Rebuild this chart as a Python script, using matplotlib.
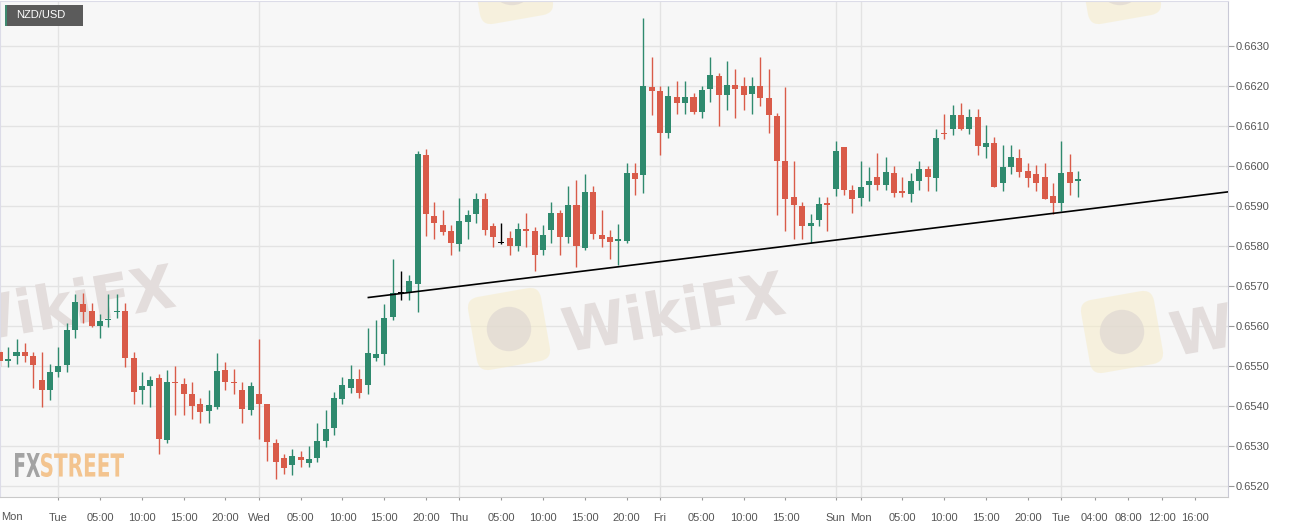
import matplotlib
matplotlib.use('Agg')
import matplotlib.pyplot as plt
from matplotlib.patches import Rectangle, FancyBboxPatch, PathPatch, Circle
from matplotlib.textpath import TextPath
from matplotlib.font_manager import FontProperties
from matplotlib.transforms import Affine2D, blended_transform_factory

W, H = 1299, 530

# hourly candles, x = trading hours from Tue 00:00 (weekend removed)
hours = list(range(-7, 123))
opens = [0.65535, 0.65512, 0.65525, 0.65535, 0.65524, 0.65465, 0.65440, 0.65485, 0.65502, 0.65590,
         0.65655, 0.65637, 0.65600, 0.65614, 0.65634, 0.65637, 0.65519, 0.65440, 0.65450, 0.65469,
         0.65316, 0.65459, 0.65456, 0.65431, 0.65404, 0.65387, 0.65398, 0.65489, 0.65461, 0.65440,
         0.65391, 0.65431, 0.65404, 0.65308, 0.65270, 0.65252, 0.65273, 0.65258, 0.65271, 0.65313,
         0.65345, 0.65417, 0.65446, 0.65468, 0.65452, 0.65521, 0.65531, 0.65622, 0.65681, 0.65683,
         0.65704, 0.66027, 0.65874, 0.65853, 0.65836, 0.65804, 0.65860, 0.65879, 0.65916, 0.65850,
         0.65807, 0.65819, 0.65800, 0.65841, 0.65838, 0.65789, 0.65839, 0.65881, 0.65821, 0.65901,
         0.65795, 0.65935, 0.65827, 0.65821, 0.65812, 0.65812, 0.65981, 0.65978, 0.66197, 0.66188,
         0.66081, 0.66173, 0.66156, 0.66173, 0.66135, 0.66191, 0.66225, 0.66177, 0.66203, 0.66200,
         0.66180, 0.66200, 0.66170, 0.66125, 0.66012, 0.65921, 0.65900, 0.65850, 0.65864, 0.65906,
         0.65942, 0.66046, 0.65939, 0.65919, 0.65952, 0.65971, 0.65952, 0.65983, 0.65936, 0.65929,
         0.65963, 0.65992, 0.65969, 0.66083, 0.66092, 0.66128, 0.66092, 0.66123, 0.66048, 0.66058,
         0.65957, 0.65998, 0.66019, 0.65986, 0.65979, 0.65972, 0.65925, 0.65908, 0.65984, 0.65961]
highs = [0.65541, 0.65548, 0.65568, 0.65558, 0.65535, 0.65535, 0.65505, 0.65548, 0.65608, 0.65679,
         0.65681, 0.65658, 0.65630, 0.65679, 0.65679, 0.65658, 0.65535, 0.65486, 0.65475, 0.65479,
         0.65491, 0.65501, 0.65471, 0.65461, 0.65421, 0.65440, 0.65533, 0.65511, 0.65492, 0.65460,
         0.65461, 0.65568, 0.65406, 0.65318, 0.65279, 0.65292, 0.65287, 0.65300, 0.65358, 0.65389,
         0.65436, 0.65472, 0.65502, 0.65492, 0.65594, 0.65614, 0.65654, 0.65767, 0.65737, 0.65727,
         0.66036, 0.66042, 0.65910, 0.65890, 0.65852, 0.65919, 0.65890, 0.65931, 0.65931, 0.65858,
         0.65858, 0.65838, 0.65857, 0.65881, 0.65848, 0.65852, 0.65910, 0.65890, 0.65950, 0.65964,
         0.65980, 0.65950, 0.65890, 0.65840, 0.65855, 0.66007, 0.66007, 0.66368, 0.66273, 0.66200,
         0.66200, 0.66213, 0.66213, 0.66181, 0.66200, 0.66273, 0.66233, 0.66262, 0.66242, 0.66223,
         0.66223, 0.66273, 0.66241, 0.66133, 0.66196, 0.66011, 0.65910, 0.65879, 0.65922, 0.65922,
         0.66062, 0.66046, 0.65952, 0.66011, 0.65996, 0.66031, 0.66021, 0.66000, 0.65971, 0.65981,
         0.66011, 0.66000, 0.66092, 0.66130, 0.66151, 0.66157, 0.66142, 0.66143, 0.66101, 0.66072,
         0.66051, 0.66051, 0.66042, 0.66008, 0.66001, 0.66008, 0.65958, 0.66061, 0.66029, 0.65988]
lows = [0.65500, 0.65497, 0.65506, 0.65511, 0.65445, 0.65397, 0.65416, 0.65473, 0.65486, 0.65569,
        0.65608, 0.65598, 0.65569, 0.65597, 0.65619, 0.65497, 0.65406, 0.65406, 0.65397, 0.65279,
        0.65308, 0.65378, 0.65378, 0.65368, 0.65358, 0.65358, 0.65392, 0.65441, 0.65431, 0.65358,
        0.65378, 0.65318, 0.65263, 0.65217, 0.65229, 0.65228, 0.65248, 0.65248, 0.65260, 0.65298,
        0.65327, 0.65404, 0.65432, 0.65421, 0.65429, 0.65512, 0.65502, 0.65614, 0.65664, 0.65664,
        0.65635, 0.65825, 0.65818, 0.65827, 0.65777, 0.65787, 0.65817, 0.65857, 0.65827, 0.65797,
        0.65805, 0.65777, 0.65787, 0.65797, 0.65737, 0.65777, 0.65808, 0.65777, 0.65808, 0.65746,
        0.65790, 0.65817, 0.65797, 0.65767, 0.65752, 0.65806, 0.65928, 0.65933, 0.66128, 0.66028,
        0.66070, 0.66130, 0.66130, 0.66130, 0.66120, 0.66160, 0.66100, 0.66139, 0.66120, 0.66139,
        0.66129, 0.66150, 0.66081, 0.65877, 0.65838, 0.65817, 0.65817, 0.65808, 0.65850, 0.65837,
        0.65925, 0.65928, 0.65883, 0.65900, 0.65911, 0.65940, 0.65940, 0.65921, 0.65921, 0.65910,
        0.65939, 0.65938, 0.65938, 0.66067, 0.66076, 0.66090, 0.66080, 0.66028, 0.66019, 0.65947,
        0.65938, 0.65979, 0.65973, 0.65948, 0.65938, 0.65917, 0.65880, 0.65888, 0.65928, 0.65921]
closes = [0.65512, 0.65517, 0.65535, 0.65525, 0.65503, 0.65440, 0.65484, 0.65499, 0.65589, 0.65659,
          0.65636, 0.65600, 0.65613, 0.65618, 0.65637, 0.65520, 0.65435, 0.65449, 0.65465, 0.65318,
          0.65460, 0.65457, 0.65430, 0.65400, 0.65386, 0.65402, 0.65487, 0.65461, 0.65457, 0.65392,
          0.65450, 0.65404, 0.65310, 0.65260, 0.65246, 0.65275, 0.65264, 0.65268, 0.65312, 0.65343,
          0.65420, 0.65452, 0.65468, 0.65432, 0.65533, 0.65529, 0.65621, 0.65681, 0.65681, 0.65711,
          0.66029, 0.65879, 0.65856, 0.65834, 0.65806, 0.65862, 0.65878, 0.65916, 0.65839, 0.65821,
          0.65807, 0.65800, 0.65842, 0.65838, 0.65777, 0.65827, 0.65881, 0.65821, 0.65902, 0.65800,
          0.65935, 0.65829, 0.65818, 0.65810, 0.65816, 0.65981, 0.65967, 0.66199, 0.66187, 0.66083,
          0.66175, 0.66156, 0.66173, 0.66135, 0.66189, 0.66227, 0.66177, 0.66203, 0.66192, 0.66178,
          0.66200, 0.66170, 0.66127, 0.66012, 0.65918, 0.65902, 0.65850, 0.65858, 0.65904, 0.65903,
          0.66037, 0.65939, 0.65918, 0.65948, 0.65962, 0.65952, 0.65985, 0.65931, 0.65933, 0.65963,
          0.65993, 0.65973, 0.66069, 0.66080, 0.66128, 0.66092, 0.66123, 0.66050, 0.66058, 0.65948,
          0.65998, 0.66021, 0.65984, 0.65969, 0.65958, 0.65918, 0.65907, 0.65982, 0.65958, 0.65967]

tick_hours = [0, 5, 10, 15, 20, 24, 29, 34, 39, 44, 48, 53, 58, 63, 68, 72, 77, 82, 87,
              93, 96, 101, 106, 111, 116, 120, 124, 128, 132, 136]
tick_labels = ['Tue', '05:00', '10:00', '15:00', '20:00', 'Wed', '05:00', '10:00', '15:00', '20:00',
               'Thu', '05:00', '10:00', '15:00', '20:00', 'Fri', '05:00', '10:00', '15:00',
               'Sun', 'Mon', '05:00', '10:00', '15:00', '20:00', 'Tue', '04:00', '08:00', '12:00', '16:00']
day_hours = [0, 24, 48, 72, 93, 96, 120]
price_ticks = [0.6520, 0.6530, 0.6540, 0.6550, 0.6560, 0.6570, 0.6580, 0.6590, 0.6600, 0.6610, 0.6620, 0.6630]

trend_hours = [37.1, 140]
trend_prices = [0.65671, 0.65935]

GREEN = '#2f8a6e'
RED = '#d95b49'

plt.rcParams['font.family'] = ['Liberation Sans', 'DejaVu Sans']

fig = plt.figure(figsize=(W / 100, H / 100), dpi=100)
fig.patch.set_facecolor('white')
ax = fig.add_axes([0, 33 / H, 1228 / W, 496 / H])
ax.set_facecolor('#f7f7f7')
ax.set_xlim(-6.975, 139.95)
ax.set_ylim(0.651726, 0.664117)

# grid
for p in price_ticks:
    ax.axhline(p, color='#e3e3e3', lw=1, zorder=0.4)
for d in day_hours:
    ax.axvline(d, color='#e3e3e3', lw=1, zorder=0.4)

# watermarks in figure pixels (y from top)
pix = Affine2D().scale(1 / W, 1 / H) + fig.transFigure


def text_mark(text, x0, y_bottom, width, height, color, rot=0, alpha=1.0):
    tp = TextPath((0, 0), text, size=50, prop=FontProperties(family='DejaVu Sans', weight='bold'))
    ext = tp.get_extents()
    tr = (Affine2D().translate(-ext.x0, -ext.y0)
          .scale(width / ext.width, height / ext.height)
          .rotate_deg(rot).translate(x0, H - y_bottom))
    patch = PathPatch(tr.transform_path(tp), facecolor=color, edgecolor='none',
                      alpha=alpha, transform=pix, zorder=0.45)
    ax.add_patch(patch)


def icon_mark(cx, cy, size):
    box = FancyBboxPatch((cx - size / 2, H - cy - size / 2), size, size,
                         boxstyle='round,pad=0,rounding_size=12', facecolor='#f6ecc9',
                         edgecolor='none', alpha=0.55, transform=pix, zorder=0.45)
    box.set_transform(Affine2D().rotate_deg_around(cx, H - cy, 10) + pix)
    ax.add_patch(box)
    ax.add_patch(Circle((cx, H - cy), size * 0.3, facecolor='#ded7d2', edgecolor='none',
                        alpha=0.7, transform=pix, zorder=0.46))


for x0, yb in [(-42, 345), (568, 352), (1176, 356)]:
    text_mark('WikiFX', x0, yb, 222, 46, '#e3dddc', rot=10)
for cx, cy in [(509, 329), (1122, 332), (512, -17), (1120, -17)]:
    icon_mark(cx, cy, 74)

text_mark('FX', 15, 477, 25, 24, '#a3a3a3')
text_mark('STREET', 41, 477, 83, 24, '#f3c48f')

# candles
for t, o, h, l, c in zip(hours, opens, highs, lows, closes):
    if c > o:
        col = GREEN
    elif c < o:
        col = RED
    else:
        col = 'black'
    ax.vlines(t, l, h, color=col, lw=1, zorder=2)
    ax.bar(t, max(abs(c - o), 0.000025), bottom=min(o, c), width=0.72,
           color=col, linewidth=0, zorder=3)

ax.plot(trend_hours, trend_prices, color='black', lw=1.2, zorder=4)

# axes styling
for side in ['left', 'top']:
    ax.spines[side].set_color('#dcdce8')
ax.spines['right'].set_color('#c9c9d6')
ax.spines['bottom'].set_color('#c9c9c9')

ax.yaxis.tick_right()
ax.set_yticks(price_ticks)
ax.set_yticklabels(['%.4f' % p for p in price_ticks])
ax.tick_params(axis='y', length=4, width=0.8, color='#999999', labelcolor='#555555',
               labelsize=8, pad=1.5)
ax.set_xticks(tick_hours)
ax.set_xticklabels(tick_labels)
ax.tick_params(axis='x', length=2.5, width=0.8, color='#999999', labelcolor='#555555',
               labelsize=8, pad=9)
trans = blended_transform_factory(ax.transData, ax.transAxes)
ax.text(-6.9, -0.04, 'Mon', transform=trans, ha='left', va='center', fontsize=8, color='#555555')

# symbol badge
fig.add_artist(Rectangle((5, H - 26), 78, 21, facecolor='#5b5b5b', edgecolor='none', transform=pix))
fig.add_artist(Rectangle((5, H - 26), 2, 21, facecolor='#3f8a70', edgecolor='none', transform=pix))
fig.text(16 / W, 1 - 15.5 / H, 'NZD/USD', color='white', fontsize=8, va='center', ha='left')

fig.savefig('out.png', dpi=100)
